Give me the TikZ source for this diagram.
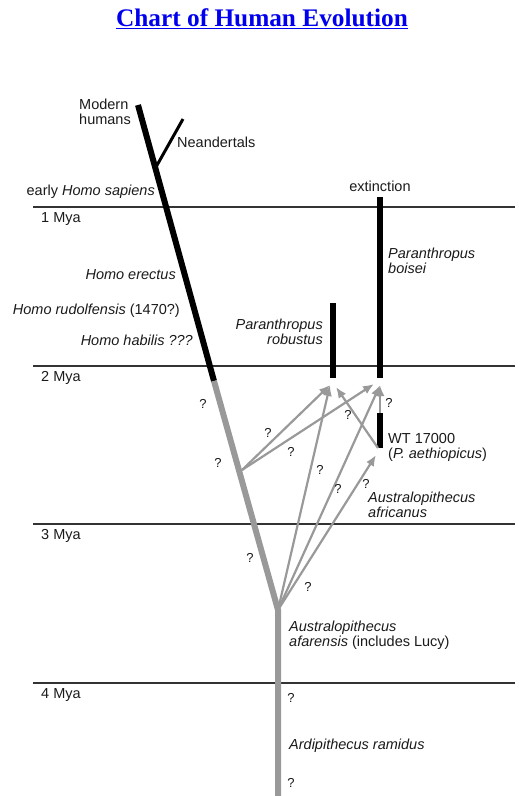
\documentclass[tikz,border=0pt]{standalone}
\usepackage{fontspec}
\setmainfont{Liberation Sans}
\newfontfamily\titlefont{Liberation Serif}
\usetikzlibrary{arrows.meta}
\definecolor{ink}{HTML}{1A1A1A}
\definecolor{trunkgray}{HTML}{999999}
\definecolor{eraline}{HTML}{333333}
\definecolor{titleblue}{HTML}{0000EE}
\tikzset{
  every node/.style={font=\fontsize{14.5}{15}\selectfont, inner sep=0pt, text=ink},
  title/.style={font=\titlefont\bfseries\fontsize{25.3}{28}\selectfont, text=titleblue},
  lbl/.style={anchor=west, align=left},
  rlbl/.style={anchor=east, align=right},
  qm/.style={font=\fontsize{13}{13}\selectfont},
  era/.style={line width=1.6pt, draw=eraline},
  fossil/.style={line width=6pt, draw=black},
  ancestor/.style={line width=6pt, draw=trunkgray},
  grayarrow/.style={-{Latex[length=11pt,width=9pt]}, line width=2.2pt, draw=trunkgray},
}
\begin{document}
\begin{tikzpicture}[x=1pt,y=-1pt]
\useasboundingbox (0,0) rectangle (527,796);
\node[title] (t) at (262,19) {\underline{Chart of Human Evolution}};
\foreach \y/\m in {207/1,366/2,524/3,683/4}{
  \draw[era] (33,\y) -- (515,\y);
  \node[anchor=base west] (mya\m) at (41,\y+15) {\m\ Mya};
}
\coordinate (modern) at (138,105);
\coordinate (nsplit) at (156,167);
\coordinate (neand) at (183,119);
\coordinate (split) at (214,381);
\coordinate (fork) at (242,470);
\coordinate (junction) at (278,610);
\coordinate (base) at (278,796);
\coordinate (robtop) at (333,303);\coordinate (robbot) at (333,378);
\coordinate (boitop) at (380,197);\coordinate (boibot) at (380,378);
\coordinate (wttop) at (380,413);\coordinate (wtbot) at (380,448);
\coordinate (robin) at (330,385);\coordinate (robinr) at (336,387);
\coordinate (boiin) at (374,384);\coordinate (boiinv) at (380,385);
\coordinate (wtin) at (376,455);
\draw[fossil] (modern) -- (split);
\draw[fossil, line width=3pt] (nsplit) -- (neand);
\draw[ancestor] (split) -- (junction) -- (base);
\draw[fossil] (robtop) -- (robbot);
\draw[fossil] (boitop) -- (boibot);
\draw[fossil] (wttop) -- (wtbot);
\draw[grayarrow] (fork) -- (robin);\draw[grayarrow] (fork) -- (boiin);
\draw[grayarrow] (junction) -- (robin);\draw[grayarrow] (junction) -- (boiinv);
\draw[grayarrow] (junction) -- (wtin);
\draw[grayarrow] ([xshift=-2pt]wtbot) -- (robinr);
\draw[grayarrow] (wttop) -- (boiinv);
\node[lbl] (modernlbl) at (79,112) {Modern\\humans};
\node[anchor=base west] (neandlbl) at (177,147) {Neandertals};
\node[anchor=base east] (sapiens) at (155,195) {early \textit{Homo sapiens}};
\node[anchor=base east] (erectus) at (176,279) {\textit{Homo erectus}};
\node[anchor=base east] (rudolf) at (180,314) {\textit{Homo rudolfensis} (1470?)};
\node[anchor=base east] (habilis) at (193,345) {\textit{Homo habilis ???}};
\node[anchor=base] (extinct) at (380,191) {extinction};
\node[lbl] (boisei) at (388,261) {\textit{Paranthropus}\\\textit{boisei}};
\node[rlbl] (robustus) at (323,332) {\textit{Paranthropus}\\\textit{robustus}};
\node[lbl] (wt) at (388,447) {WT 17000\\(\textit{P. aethiopicus})};
\node[lbl] (africanus) at (368,505) {\textit{Australopithecus}\\\textit{africanus}};
\node[lbl] (afarensis) at (289,635) {\textit{Australopithecus}\\\textit{afarensis} (includes Lucy)};
\node[anchor=base west] (ramidus) at (289,749) {\textit{Ardipithecus ramidus}};
\foreach \x/\y [count=\i] in {203/404,218/463,268/433,291/452,348/415,389/403,320/470,338/489,366/484,250/558,308/587,291/698,291/783}
  \node[qm] (q\i) at (\x,\y) {?};
\end{tikzpicture}
\end{document}
